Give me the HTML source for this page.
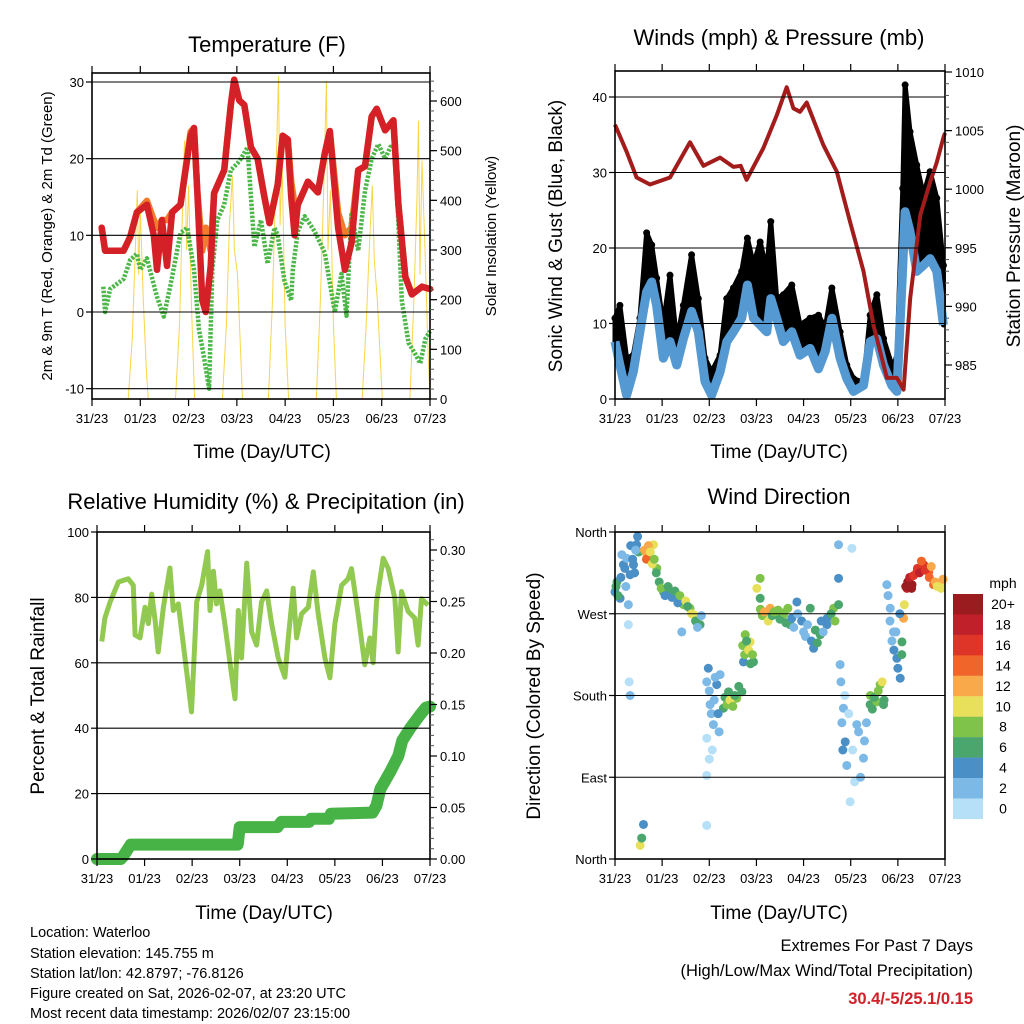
<!DOCTYPE html>
<html><head><meta charset="utf-8"><style>
html,body{margin:0;padding:0;background:#fff;}
svg{display:block;font-family:"Liberation Sans",Arial,sans-serif;}
</style></head><body>
<svg id="fig" width="1024" height="1024" viewBox="0 0 1024 1024" xmlns="http://www.w3.org/2000/svg">
<rect width="1024" height="1024" fill="#fff"/>
<g id="marks"></g>
<g id="axes"></g>
<g font-size="22" text-anchor="middle" fill="#000">
<text x="267" y="52">Temperature (F)</text>
<text x="779" y="45">Winds (mph) &amp; Pressure (mb)</text>
<text x="266" y="509">Relative Humidity (%) &amp; Precipitation (in)</text>
<text x="779" y="504">Wind Direction</text>
</g>
<g font-size="19" text-anchor="middle" fill="#000">
<text x="262" y="458">Time (Day/UTC)</text>
<text x="779" y="458">Time (Day/UTC)</text>
<text x="264" y="919">Time (Day/UTC)</text>
<text x="779" y="919">Time (Day/UTC)</text>
<text font-size="15" transform="translate(52,236) rotate(-90)">2m &amp; 9m T (Red, Orange) &amp; 2m Td (Green)</text>
<text font-size="15" transform="translate(496,236) rotate(-90)">Solar Insolation (Yellow)</text>
<text transform="translate(562,236) rotate(-90)">Sonic Wind &amp; Gust (Blue, Black)</text>
<text transform="translate(1020,236) rotate(-90)">Station Pressure (Maroon)</text>
<text transform="translate(44,696) rotate(-90)">Percent &amp; Total Rainfall</text>
<text transform="translate(540,696) rotate(-90)">Direction (Colored By Speed)</text>
</g>
<g font-size="14.5" fill="#000">
<text x="30" y="937">Location: Waterloo</text>
<text x="30" y="958">Station elevation: 145.755 m</text>
<text x="30" y="978">Station lat/lon: 42.8797; -76.8126</text>
<text x="30" y="998">Figure created on Sat, 2026-02-07, at 23:20 UTC</text>
<text x="30" y="1018">Most recent data timestamp: 2026/02/07 23:15:00</text>
</g>
<g font-size="16.5" text-anchor="end" fill="#000">
<text x="973" y="951">Extremes For Past 7 Days</text>
<text x="973" y="976">(High/Low/Max Wind/Total Precipitation)</text>
<text x="973" y="1004" fill="#d02028" font-weight="bold">30.4/-5/25.1/0.15</text>
</g>
<g id="colorbar"></g>
</svg>
<script>
// ---------- data (hours since start, values) ----------
const dayLabels = ["31/23","01/23","02/23","03/23","04/23","05/23","06/23","07/23"];
const tempT = [4.8,6.5,15.7,19,22.3,27.3,30.7,32.3,34.8,37.3,39.8,44,49,50.7,52.3,54.8,56.5,59,60.7,65.7,69,70.7,73.2,75.7,79,82.3,85.7,88.2,92.3,94.8,97.3,99,100.7,102.3,107.3,112.3,115.7,118.2,122.3,125.7,129,132.3,135.7,139,141.5,145.7,149.8,152.3,155.7,159,164,168];
const tempRed = [11,8,8,9.8,13,14,10,5.5,12,6,13,14,23,24,16,1.5,0,6,15.5,18.5,27,30.3,27.6,27,21.5,20,15,11.6,16.6,23,22.5,15,10,14,17,15.6,20.7,23.6,11,5.5,9,18.5,19,25.5,26.5,23.7,25,14,4.6,2.3,3.3,3];
const tempOrange = [11,8,8,9.8,13,14.5,12,11,12,12,13,14,23.5,24,16,8,11,8,15.5,18.5,27,30.3,27.6,27,21.5,20,15,11.6,16.6,23,22.5,17,14,14,17,15.6,20.7,23.6,13,10,11,18.5,19,25.5,26.5,23.7,25,14,4.6,2.3,3.3,3];
const dewT = [5.6,6.5,9,15.7,19,22.3,24,27.3,32.3,35.7,39,44,47.3,50.7,53.2,55.7,58.2,59.8,62.3,65.7,69,72.3,74,77.3,80.7,84,87.3,90.7,92.3,95.7,99,99.8,102.3,105.7,110.7,115.7,120.7,124,126.5,129,132.3,135.7,139,142.3,145.7,149,150.7,154,157.3,160.7,163.2,165.7,168];
const dewV = [3.3,0,3,4.3,6.8,7.6,5.5,7,2,-0.6,3.5,10.3,11,5.5,-2.3,-6,-10,5.5,12,14,18.5,19.4,20,21.5,8.5,12,6.3,11,10,4,1.5,5.5,10.5,12.5,10.5,7.7,0,5,-0.5,13,8,15.8,20,21.9,20,21.9,21,1.5,-4,-5.5,-6.7,-3.5,-2.5];
const solarT = [18,20,21.5,22.5,23.2,24,25.5,27,28, 41.5,43.5,45,46,47,48,49.5,51, 64.8,66.8,68.3,69.8,70.8,72.3,74.8, 87.7,89.7,91.2,92.7,93.5,94.5,96,97.7, 111.5,113.5,115,116.5,117.3,118.5,120,121.5, 134.3,136.3,137.8,139.3,140.3,141.8,144.3, 158,160,161.5,162.3,163,164,165.5,167,168];
const solarV = [0,120,300,420,250,380,200,60,0, 0,150,380,520,300,430,180,0, 0,150,350,450,300,250,0, 0,200,420,650,350,480,150,0, 0,200,400,640,300,420,150,0, 0,150,300,430,280,200,0, 0,200,400,560,250,480,300,100,0];
const presT = [0,5.9,11,17.8,28,38.2,45,53.5,60.3,64,67,75.5,82.3,87.4,90.8,94.2,97.6,106,112.9,119.7,126.5,131.6,138.4,143.5,146.9,150.3,155.4,160.4,163.8,167.2,168];
const presV = [1005.5,1003.2,1001,1000.4,1001,1004,1002,1002.7,1001.9,1002,1000.8,1003.5,1006.3,1008.7,1006.9,1006.6,1007.4,1003.8,1001.5,997.2,993,988.4,983.9,983.9,982.9,990.7,997.8,1000.6,1002.3,1004.4,1004.8];
const windT = [0,2.5,5.9,9.3,12.7,16.1,18.7,21.2,24.6,28,31.4,34.8,39,42.4,45.8,49.2,53.5,56.9,60.3,64.5,67.4,70.5,73.9,77.3,79.3,82.3,85.7,90,94.2,99.3,103.6,107,110.4,114.6,118,121.4,126.5,129.9,133.3,136.7,140.9,143.5,146.5,147.7,150.2,153.6,157,160.4,163.8,167.2];
const windSpeed = [7.6,4.5,0.5,3.6,8.9,14.2,15.5,12.4,5.4,7.6,4.5,8,11.6,8.9,2.3,0.5,3.6,7.6,8.9,10.7,15.1,10.7,9.8,8.9,13.3,10.7,7.6,8.9,5.8,6.7,4,6.3,10.7,5.4,2.7,1,1.8,7.6,8,4.5,1.8,1,17.7,24.8,22.2,16.9,17.7,18.6,16.9,9.8];
const windGust = [10.7,12.4,5.4,5.8,10.7,22,20.4,16,9.8,16.4,7.6,12.4,19.1,13.3,5.4,3.6,5.8,13.3,14.7,16.9,21.3,17.8,20.8,16.9,23.5,13.3,13.8,15.1,9.8,10.7,11.1,9.4,14.7,8.9,4.5,2.7,2.2,11.1,13.8,8,4.5,5.4,27.9,41.6,35.4,31,27,30.1,26.6,17.7];
const rhT = [2.4,4,6.6,10.8,15.8,18.3,19.2,21.7,24.2,25.9,27.6,29.3,30.9,33.5,36.8,38.5,41,44.4,47.7,50.3,52.8,55.8,57,58.7,60.3,62,64.5,67.9,69.6,71.3,72.9,75.5,78,80.5,83,85.6,88.1,91.4,94.8,96.5,99,100.7,103.2,106.6,109.1,111.6,115,117.5,120,123.4,126.7,128.4,131.8,135.1,137.7,139.3,141,144.4,146.9,150.3,151.9,153.6,157,160.3,162,163.7,167];
const rhV = [66.5,73.7,78.6,84.7,85.7,83.7,68.5,67.6,77,72,81,73,63.3,77,89,76,78,61.5,45,78.6,83.7,94,76,88,78,82,72,56.3,49,76,61.5,90.5,69.5,65.4,78.6,82,72,61.5,55.6,67.6,82.8,67.6,75,77,87.8,75,61.5,55.4,72,83.7,85.7,88.8,74.7,59.4,67.6,60,78.6,92,88.8,79.6,63.3,81.8,75.7,73.7,65.4,79.6,77.6];
const rainT = [0,12,13,17,71,72,91,93,107,108,117,118,139,141,143,148,152,154,158,163,166,168];
const rainV = [0,0,0.002,0.014,0.014,0.031,0.031,0.036,0.036,0.039,0.039,0.044,0.045,0.052,0.068,0.085,0.1,0.115,0.127,0.14,0.147,0.148];
const dirT = [0,1,2.6,4.3,6,6.8,7.7,9.4,11,12,6.8,7.2,7.7,16.2,17.9,19.6,21.3,24.7,28,31.5,34.9,38.2,40,43.3,34,12.8,14.5,13.6,46.7,48.4,46.7,50.1,51.8,46.7,46.7,53.5,55.2,57.8,59.5,62,64.6,65.4,66.3,68.8,70.5,72.2,73.9,73.9,77.3,79,82.4,85.8,89.2,92.6,96,99.4,101.1,104.5,107.9,111.3,113.8,113.8,113.8,114.6,116.3,117.2,118,119.7,123.1,126.5,120.6,129.9,133.3,135,136.7,138.4,140.1,141.8,143.5,145.2,146.1,146.9,147.3,148.6,151.2,153.7,157.1,159.7,162.2,165.6,
 0.5,1.5,3,3.5,5,5.5,8,9,10,11.5,10.5,15,16,17,18,19,20,21,22.5,23.5,25.5,27,29,30.5,32,33,36,37,39,41,42,44,47.5,48,49,50.5,51,52.5,53,49.5,48,56,57,58.5,60,61,63,65,66,67,68,69,70,74,75,76,78,80,81,83,84,86,87,88,90,91,93,95,97,98,100,102,103,105,106,108,110,112,115,115.5,116,117,119,121,122,124,125,127,128,130,131,132,134,136,137,139,140,141,142,143,144,145,146,148,149,150,151,152,154,155,156,158,160,161,163,164,166,167];
const dirV = [294,305,287,324,331,280,313,324,346,338,258,195,180,335,331,346,320,294,291,287,280,276,269,258,250,15,38,23,195,170,133,148,192,92,37,203,166,184,173,177,184,217,247,239,217,298,309,287,272,276,269,269,258,283,250,276,232,247,258,276,280,346,309,214,166,129,103,63,148,111,342,170,173,192,170,302,276,250,221,199,239,265,280,298,302,316,324,316,302,302,
 300,290,310,335,320,300,345,330,315,355,340,340,330,345,338,325,330,315,305,298,290,300,288,295,282,290,284,278,270,262,255,268,210,185,160,175,200,160,140,120,110,178,170,175,168,180,190,235,225,240,230,215,225,275,268,272,262,268,272,274,264,271,260,276,265,255,270,262,245,258,240,252,238,262,250,265,270,262,195,150,120,180,160,120,85,140,90,130,150,180,165,178,185,195,175,290,262,240,230,250,210,270,225,300,305,310,298,312,320,315,328,318,310,322,305,300,298,308];
const dirSpeed = [5,6,4,4,3,2,4,4,5,6,1,1,3,13,14,11,8,6,7,5,8,9,10,6,2,10,5,6,3,2,1,2,4,1,1,3,6,7,10,8,6,4,9,10,6,10,9,7,11,13,8,8,7,4,3,6,4,6,4,8,6,2,4,3,2,4,3,1,2,2,1,6,8,9,7,2,3,2,4,4,6,12,10,19,20,16,17,15,14,11,
 6,7,4,3,4,2,5,4,5,4,3,12,14,13,11,10,8,7,6,8,5,6,4,7,5,8,10,6,11,7,2,3,4,2,3,2,2,4,2,0,0,7,8,10,9,7,6,8,9,7,10,6,8,8,9,12,10,7,8,9,7,8,6,8,4,3,3,4,2,3,5,6,6,4,3,5,7,8,2,3,4,1,1,1,1,2,2,2,3,8,7,6,8,10,6,2,3,2,4,3,4,5,6,20,21,18,20,17,16,18,15,16,14,13,12,11,10,12];
const cbLabels = ["20+","18","16","14","12","10","8","6","4","2","0"];
const cbColors = ["#9b1c1f","#c0202a","#de3528","#f06529","#f9a94a","#e8e05a","#7fc34a","#4aa66d","#4a8fc6","#7db9e6","#b6e0f7"];

// ---------- helpers ----------
const NS = "http://www.w3.org/2000/svg";
const marks = document.getElementById('marks');
const axes = document.getElementById('axes');
function mk(tag, attrs, parent){const e=document.createElementNS(NS,tag);for(const k in attrs)e.setAttribute(k,attrs[k]);(parent||marks).appendChild(e);return e;}
function lin(d0,d1,r0,r1){return v=>r0+(v-d0)*(r1-r0)/(d1-d0);}
function pathD(T,V,fx,fy){return T.map((t,i)=>(i?'L':'M')+fx(t).toFixed(1)+','+fy(V[i]).toFixed(1)).join('');}

function frame(name,x0,x1,y0,y1){
  const r=mk('rect',{x:x0,y:y0,width:x1-x0,height:y1-y0,fill:'none',stroke:'#000','stroke-width':1.6},axes);
  
  
  const fx=lin(0,168,x0,x1);
  dayLabels.forEach((lb,i)=>{
    const x=fx(i*24);
    mk('line',{x1:x,x2:x,y1:y1,y2:y1+7,stroke:'#000','stroke-width':1.2},axes);
    mk('line',{x1:x,x2:x,y1:y0,y2:y0-7,stroke:'#000','stroke-width':1.2},axes);
    const t=mk('text',{x:x,y:y1+24,'font-size':13,'text-anchor':'middle'},axes);
    t.textContent=lb;
    
    
  });
}
function leftAxis(name,x0,x1,fy,vals,labels,grid){
  vals.forEach((v,i)=>{
    const y=fy(v);
    if(grid) mk('line',{x1:x0,x2:x1,y1:y,y2:y,stroke:'#000','stroke-width':1.1},axes);
    mk('line',{x1:x0-6,x2:x0,y1:y,y2:y,stroke:'#000','stroke-width':1.2},axes);
    const t=mk('text',{x:x0-8,y:y+5,'font-size':13,'text-anchor':'end'},axes);
    t.textContent=labels[i];
    
    
  });
}
function rightAxis(name,x1,fy,vals,labels,minor){
  minor.forEach(v=>{const y=fy(v);mk('line',{x1:x1,x2:x1+4,y1:y,y2:y,stroke:'#555','stroke-width':1},axes);});
  vals.forEach((v,i)=>{
    const y=fy(v);
    mk('line',{x1:x1,x2:x1+7,y1:y,y2:y,stroke:'#000','stroke-width':1.2},axes);
    const t=mk('text',{x:x1+10,y:y+5,'font-size':13,'text-anchor':'start'},axes);
    t.textContent=labels[i];
    
    
  });
}
function range(a,b,s){const r=[];for(let v=a;v<=b+1e-9;v+=s)r.push(+v.toFixed(4));return r;}

// ---------- Temperature panel ----------
{
  const X0=92,X1=430,Y0=73,Y1=399;
  const fx=lin(0,168,X0,X1), fy=lin(0,30,312,82), fs=lin(0,600,399,101);
  let p;
  p=mk('path',{d:pathD(solarT,solarV,fx,fs),fill:'none',stroke:'#f8d64a','stroke-width':1});
  
  
  p=mk('path',{d:pathD(tempT,tempOrange,fx,fy),fill:'none',stroke:'#f27c2c','stroke-width':6.5,'stroke-linejoin':'round','stroke-linecap':'round'});
  
  
  p=mk('path',{d:pathD(dewT,dewV,fx,fy),fill:'none',stroke:'#4cb748','stroke-width':4.5,'stroke-dasharray':'2.5 1.5','stroke-linejoin':'round'});
  
  
  p=mk('path',{d:pathD(tempT,tempRed,fx,fy),fill:'none',stroke:'#d42027','stroke-width':6.5,'stroke-linejoin':'round','stroke-linecap':'round'});
  
  
  frame('temp',X0,X1,Y0,Y1);
  leftAxis('temp',X0,X1,fy,[30,20,10,0,-10],["30","20","10","0","-10"],true);
  rightAxis('solar',X1,fs,range(0,600,100),range(0,600,100).map(String),range(0,650,20));
}
// ---------- Winds panel ----------
{
  const X0=615,X1=945,Y0=71,Y1=399;
  const fx=lin(0,168,X0,X1), fy=lin(0,40,399,97), fp=lin(985,1010,365,72);
  let p;
  const band = pathD(windT,windGust,fx,fy) + windT.slice().reverse().map((t,k)=>{const i=windT.length-1-k;return 'L'+fx(t).toFixed(1)+','+fy(windSpeed[i]).toFixed(1);}).join('')+'Z';
  p=mk('path',{d:band,fill:'#000',stroke:'#000','stroke-width':5,'stroke-linejoin':'round'});
  
  
  windT.forEach((t,i)=>{
    const c=mk('circle',{cx:fx(t),cy:fy(windGust[i]),r:3.5,fill:'#000'});
    
    
  });
  p=mk('path',{d:pathD(windT,windSpeed,fx,fy),fill:'none',stroke:'#5599d3','stroke-width':9,'stroke-linejoin':'round'});
  
  
  p=mk('path',{d:pathD(presT,presV,fx,fp),fill:'none',stroke:'#a31c1c','stroke-width':4,'stroke-linejoin':'round'});
  
  
  frame('wind',X0,X1,Y0,Y1);
  leftAxis('wind',X0,X1,fy,[0,10,20,30,40],["0","10","20","30","40"],true);
  rightAxis('pressure',X1,fp,range(985,1010,5),range(985,1010,5).map(String),range(983,1013,1).filter(v=>fp(v)>Y0&&fp(v)<Y1));
}
// ---------- RH panel ----------
{
  const X0=97,X1=430,Y0=532,Y1=859;
  const fx=lin(0,168,X0,X1), fy=lin(0,100,859,532), fr=lin(0,0.30,859,550);
  let p;
  p=mk('path',{d:pathD(rhT,rhV,fx,fy),fill:'none',stroke:'#92c950','stroke-width':5,'stroke-linejoin':'round'});
  
  
  p=mk('path',{d:pathD(rainT,rainV,fx,fr),fill:'none',stroke:'#47b347','stroke-width':12,'stroke-linejoin':'round','stroke-linecap':'round'});
  
  
  frame('rh',X0,X1,Y0,Y1);
  leftAxis('rh',X0,X1,fy,[0,20,40,60,80,100],["0","20","40","60","80","100"],false);
  [20,40,60,80].forEach(v=>mk('line',{x1:X0,x2:X1,y1:fy(v),y2:fy(v),stroke:'#000','stroke-width':1.1},axes));
  rightAxis('rain',X1,fr,range(0,0.3,0.05),["0.00","0.05","0.10","0.15","0.20","0.25","0.30"],range(0,0.31,0.01));
}
// ---------- Wind direction panel ----------
{
  const X0=615,X1=945,Y0=532,Y1=859;
  const fx=lin(0,168,X0,X1), fy=lin(0,360,859,532);
  const colorFor=s=>cbColors[10-Math.min(10,Math.floor(s/2))];
  dirT.forEach((t,i)=>{
    const c=mk('circle',{cx:fx(t),cy:fy(dirV[i]),r:4.5,fill:colorFor(dirSpeed[i])});
    
    
  });
  frame('dir',X0,X1,Y0,Y1);
  leftAxis('dir',X0,X1,fy,[360,270,180,90,0],["North","West","South","East","North"],false);
  [270,180,90].forEach(v=>mk('line',{x1:X0,x2:X1,y1:fy(v),y2:fy(v),stroke:'#000','stroke-width':1.1},axes));
  const cb=document.getElementById('colorbar');
  const t=mk('text',{x:1003,y:588,'font-size':14,'text-anchor':'middle'},cb);
  t.textContent='mph';
  
  
  cbColors.forEach((col,i)=>{
    const y=594+i*20.45;
    const r=mk('rect',{x:953,y:y,width:30,height:20.6,fill:col},cb);
    
    
    const l=mk('text',{x:1003,y:y+15,'font-size':14,'text-anchor':'middle'},cb);
    l.textContent=cbLabels[i];
    
    
  });
}
</script>
</body></html>
